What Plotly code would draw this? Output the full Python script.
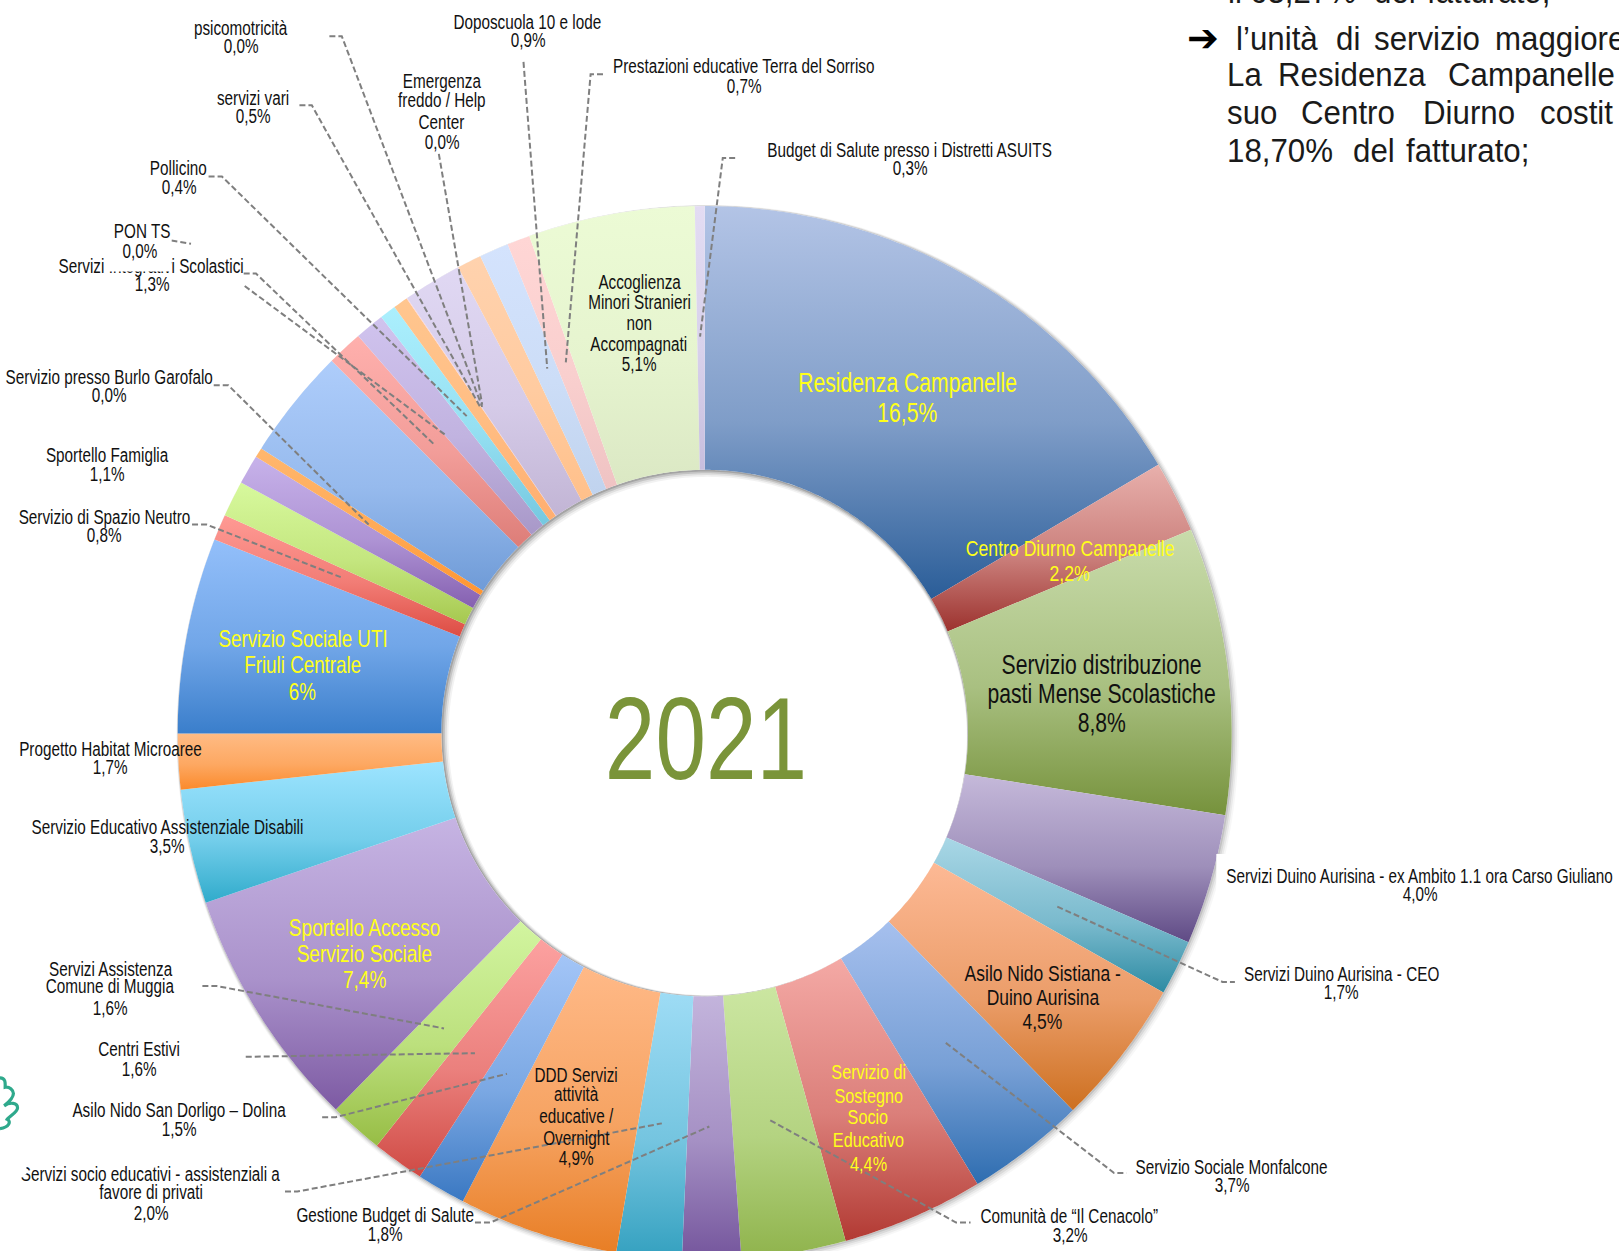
import numpy as np
import plotly.graph_objects as go

# ---------- data ----------
names = ["Residenza Campanelle", "Centro Diurno Campanelle", "Servizio distribuzione pasti Mense Scolastiche",
         "Servizi Duino Aurisina - ex Ambito 1.1 ora Carso Giuliano", "Servizi Duino Aurisina - CEO",
         "Asilo Nido Sistiana - Duino Aurisina", "Servizio Sociale Monfalcone", "Servizio di Sostegno Socio Educativo",
         "Comunità de “Il Cenacolo”", "Gestione Budget di Salute", "Servizi socio educativi - assistenziali a favore di privati",
         "DDD Servizi attività educative / Overnight", "Asilo Nido San Dorligo – Dolina", "Centri Estivi",
         "Servizi Assistenza Comune di Muggia", "Sportello Accesso Servizio Sociale", "Servizio Educativo Assistenziale Disabili",
         "Progetto Habitat Microaree", "Servizio Sociale UTI Friuli Centrale", "Servizio di Spazio Neutro",
         "Sportello Famiglia", "Servizio presso Burlo Garofalo", "Altro A", "Altro B",
         "Servizi Integrativi Scolastici", "PON TS", "Pollicino", "servizi vari", "psicomotricità",
         "Emergenza freddo / Help Center", "Altro C", "Doposcuola 10 e lode",
         "Prestazioni educative Terra del Sorriso", "Accoglienza Minori Stranieri non Accompagnati",
         "Budget di Salute presso i Distretti ASUITS"]
values = [16.5, 2.2, 8.8, 4.0, 1.7, 4.5, 3.65, 4.35, 3.2, 1.8, 2.0, 4.9, 1.5, 1.6, 1.65, 7.45, 3.5, 1.7, 6.0, 0.8,
          1.1, 0.9, 0.3, 3.4, 1.1, 0.9, 0.5, 0.45, 0.02, 1.8, 0.75, 0.9, 0.7, 5.1, 0.3]
tops = ["#b3c4e6", "#e8b0ac", "#c9dcab", "#c5b9da", "#a9d7e6", "#fdb995", "#a6c0ee", "#f4a9a5", "#cbe6a1", "#c3b4dc",
        "#9edcf5", "#ffb987", "#a3c5f7", "#fca1a0", "#d2f5a0", "#c6b4e3", "#9de4ff", "#ffbb84", "#93bffa", "#ff9a94",
        "#d7f99d", "#c7b2ea", "#ffb76e", "#aecdfb", "#ffb0ad", "#d0c3ee", "#abeffd", "#ffc68f", "#ffd0d0",
        "#e0d8f3", "#ffd2ae", "#d4e3fd", "#ffd6d5", "#ecfbd5", "#e3dcf3"]
bottoms = ["#2a5d98", "#9c322e", "#76923c", "#5f4a85", "#2d8ba3", "#cd7020", "#2e6db0", "#b23a33", "#8fb34c", "#74559c",
           "#33a0bf", "#e87e25", "#3a78c2", "#cf4a44", "#97bd45", "#7d5aa3", "#30abcb", "#fb8a2b", "#3a7ecb", "#dd4d44",
           "#a6c84f", "#8560b0", "#ff9530", "#6f9bd7", "#dd7d78", "#a898c8", "#75c8e0", "#ffae70", "#f0c0c0",
           "#c2b5d5", "#ffc08a", "#c0d3ee", "#efc3c3", "#dbe8c4", "#c7bede"]

BLK = "#111111"
YEL = "#ffff1a"
small = 19.5
labels = [
    ("psicomotricità", 233, 27), ("0,0%", 233, 45),
    ("Doposcuola 10 e lode", 511, 21), ("0,9%", 511, 39),
    ("Prestazioni educative Terra del Sorriso", 721, 64), ("0,7%", 721, 83),
    ("Emergenza", 428, 78), ("freddo / Help", 428, 97), ("Center", 428, 118), ("0,0%", 428, 138),
    ("servizi vari", 245, 95), ("0,5%", 245, 112),
    ("Budget di Salute presso i Distretti ASUITS", 881, 145), ("0,3%", 881, 163),
    ("Pollicino", 173, 163), ("0,4%", 173, 181),
    ("PON TS", 138, 224),
    ("Servizi Integrativi Scolastici", 146, 258), ("1,3%", 147, 275),
    ("Servizio presso Burlo Garofalo", 106, 365), ("0,0%", 106, 383),
    ("Sportello Famiglia", 104, 441), ("1,1%", 104, 459),
    ("Servizio di Spazio Neutro", 101, 501), ("0,8%", 101, 518),
    ("Accoglienza", 619, 273), ("Minori Stranieri", 619, 292), ("non", 619, 313), ("Accompagnati", 619, 333), ("5,1%", 619, 353),
    ("Servizi Duino Aurisina - ex Ambito 1.1 ora Carso Giuliano", 1375, 848), ("4,0%", 1375, 866),
    ("Servizi Duino Aurisina - CEO", 1299, 943), ("1,7%", 1299, 961),
    ("Servizio Sociale Monfalcone", 1193, 1130), ("3,7%", 1193, 1148),
    ("Comunità de “Il Cenacolo”", 1036, 1178), ("3,2%", 1036, 1196),
    ("DDD Servizi", 558, 1041), ("attività", 558, 1060), ("educative /", 558, 1081), ("Overnight", 558, 1102), ("4,9%", 558, 1122),
    ("Gestione Budget di Salute", 373, 1177), ("1,8%", 373, 1195),
    ("Servizi socio educativi - assistenziali a", 146, 1137), ("favore di privati", 146, 1154), ("2,0%", 146, 1175),
    ("Asilo Nido San Dorligo – Dolina", 173, 1075), ("1,5%", 173, 1093),
    ("Centri Estivi", 135, 1016), ("1,6%", 135, 1035),
    ("Servizi Assistenza", 107, 938), ("Comune di Muggia", 107, 955), ("1,6%", 107, 976),
    ("Servizio Educativo Assistenziale Disabili", 162, 801), ("3,5%", 162, 819),
    ("Progetto Habitat Microaree", 107, 725), ("1,7%", 107, 743),
]
big_labels = [
    ("Residenza Campanelle", 879, 371, 27, YEL), ("16,5%", 879, 400, 27, YEL),
    ("Centro Diurno Campanelle", 1036, 531, 22.5, YEL), ("2,2%", 1036, 555, 22.5, YEL),
    ("Servizio distribuzione", 1067, 644, 27, BLK), ("pasti Mense Scolastiche", 1067, 672, 27, BLK), ("8,8%", 1067, 700, 27, BLK),
    ("Asilo Nido Sistiana -", 1010, 943, 22.3, BLK), ("Duino Aurisina", 1010, 966, 22.3, BLK), ("4,5%", 1010, 989, 22.3, BLK),
    ("Servizio di", 841, 1038, 20.7, YEL), ("Sostegno", 841, 1061, 20.7, YEL), ("Socio", 841, 1081, 20.7, YEL),
    ("Educativo", 841, 1104, 20.7, YEL), ("4,4%", 841, 1127, 20.7, YEL),
    ("Sportello Accesso", 353, 898, 24.3, YEL), ("Servizio Sociale", 353, 923, 24.3, YEL), ("7,4%", 353, 949, 24.3, YEL),
    ("Servizio Sociale UTI", 293, 618, 24, YEL), ("Friuli Centrale", 293, 644, 24, YEL), ("6%", 293, 670, 24, YEL),
]
side_top = [("il", 1187), ("63,27%", 1209), ("del", 1329), ("fatturato;", 1380)]
side_words = [
    ("l’unità", 1195, 37), ("di", 1292, 37), ("servizio", 1329, 37), ("maggiore", 1446, 37),
    ("La", 1186, 72), ("Residenza", 1236, 72), ("Campanelle", 1400, 72),
    ("suo", 1186, 108), ("Centro", 1258, 108), ("Diurno", 1376, 108), ("costit", 1490, 108),
    ("18,70%", 1186, 145), ("del", 1308, 145), ("fatturato;", 1360, 145),
]
leaders = [
    [(319, 35), (331, 35), (467, 394)],
    [(290, 102), (302, 102), (465, 394)],
    [(425, 149), (467, 392)],
    [(507, 60), (530, 357)],
    [(584, 72), (572, 72), (548, 351)],
    [(712, 153), (700, 153), (678, 326)],
    [(202, 171), (215, 171), (452, 403)],
    [(166, 233), (185, 236)],
    [(236, 265), (248, 265), (420, 430)],
    [(237, 277), (431, 421)],
    [(207, 373), (221, 373), (357, 508)],
    [(186, 508), (200, 508), (330, 559)],
    [(196, 955), (210, 955), (430, 996)],
    [(238, 1023.5), (460, 1020)],
    [(312, 1082), (325, 1082), (491, 1040)],
    [(276, 1154), (288, 1154), (641, 1088)],
    [(460, 1184), (475, 1184), (687, 1091)],
    [(746, 1085), (926, 1184), (940, 1184)],
    [(916, 1010), (1079, 1136), (1091, 1136)],
    [(1024, 878), (1184, 951), (1196, 951)],
]

# ---------- geometry ----------
W, H = 1619, 1251
PW, PH = 1568, 1568 * H / W
CX, CY, R_OUT, R_IN = 682.5, 710.0, 510.4, 255.0
FONT = "Liberation Sans, Arial, sans-serif"
SIDE_SIZE = 34

fig = go.Figure()

def crescent(radius, d, sign, alpha):
    """ring-edge shadow: area between a circle and a shifted, tangent one"""
    start = 135 if sign > 0 else 315
    t = np.radians(np.linspace(start, start + 360, 361))
    r2 = radius - d if sign > 0 else radius + d
    cx2, cy2 = CX + d * 0.707, CY + d * 0.707
    xs = np.concatenate([CX + radius * np.sin(t), (cx2 + r2 * np.sin(t))[::-1]])
    ys = np.concatenate([CY - radius * np.cos(t), (cy2 - r2 * np.cos(t))[::-1]])
    fig.add_trace(go.Scatter(x=xs, y=ys, mode="none", fill="toself", fillcolor=f"rgba(0,0,0,{alpha})",
                             hoverinfo="skip", showlegend=False))

for d, a in [(1, .16), (2, .12), (3, .08), (4, .05)]:
    crescent(R_IN, d, 1, a)
for d, a in [(1, .10), (2, .07), (3, .05), (4, .03)]:
    crescent(R_OUT, d, -1, a)

def mix(c1, c2, f):
    a = [int(c1[i:i + 2], 16) for i in (1, 3, 5)]
    b = [int(c2[i:i + 2], 16) for i in (1, 3, 5)]
    return "rgb(%d,%d,%d)" % tuple(round(p + (q - p) * f) for p, q in zip(a, b))

ang = np.concatenate([[0], np.cumsum(values)]) / np.sum(values) * 360.0
for i, name in enumerate(names):
    a = np.radians(np.linspace(ang[i], ang[i + 1], max(3, int((ang[i + 1] - ang[i]) * 2) + 2)))
    xs = np.concatenate([CX + R_OUT * np.sin(a), CX + R_IN * np.sin(a[::-1])])
    ys = np.concatenate([CY - R_OUT * np.cos(a), CY - R_IN * np.cos(a[::-1])])
    fig.add_trace(go.Scatter(
        x=np.append(xs, xs[0]), y=np.append(ys, ys[0]), mode="none",
        fill="toself", name=name, showlegend=False, hovertemplate=f"{name}<br>{values[i]}%<extra></extra>",
        fillgradient=dict(type="vertical", start=float(ys.min()), stop=float(ys.max()),
                          colorscale=[[0, tops[i]], [0.55, mix(tops[i], bottoms[i], 0.38)], [1, bottoms[i]]]),
    ))

for pts in leaders:
    fig.add_trace(go.Scatter(x=[p[0] for p in pts], y=[p[1] for p in pts], mode="lines",
                             line=dict(color="#7f7f7f", width=2, dash="6px,3px"), hoverinfo="skip", showlegend=False))

def note(text, x, y, size=small, color=BLK, xanchor="center", family=FONT, **kw):
    fig.add_annotation(text=text, x=x, y=y, xref="x", yref="y", showarrow=False, xanchor=xanchor, yanchor="middle",
                       font=dict(family=family, size=size, color=color), **kw)

for t, x, y in labels:
    note(t, x, y)
for t, x, y, s, c in big_labels:
    note(t, x, y, s, c)
note("0,0%", 136, 246.5, width=60, height=30, bgcolor="#ffffff", valign="top")
note(" ", 12, 1130, width=25, height=12, bgcolor="#ffffff")
note("2021", 684, 716, 116, "#7a9439")
for t, x in side_top:
    note(t, x, 0, SIDE_SIZE, "#1a1a1a", xanchor="left", yshift=9)
for t, x, y in side_words:
    note(t, x, y, SIDE_SIZE, "#1a1a1a", xanchor="left")
note("➔", 1165, 37, 38, "#000000", family="DejaVu Sans")

fig.update_layout(
    width=W, height=H, margin=dict(l=0, r=0, t=0, b=0), paper_bgcolor="white", plot_bgcolor="white",
    xaxis=dict(range=[0, PW], visible=False, fixedrange=True),
    yaxis=dict(range=[PH, 0], visible=False, fixedrange=True),
    shapes=[
        dict(type="rect", xref="x", yref="y", x0=1178, x1=1568, y0=827, y1=878, fillcolor="white", line_width=0, layer="above"),
        dict(type="path", xref="x", yref="y", layer="above", line=dict(color="#2fa98c", width=3.2),
             path="M0,1044 C6,1044 5,1050 5,1053 C9,1052 13,1056 13,1059 C13,1063 9,1067 4,1071 C10,1067 17,1068 17,1073 "
                  "C17,1077 9,1081 7,1084 C11,1086 9,1092 0,1093"),
    ],
)

# the reference type is a condensed face: squeeze each text horizontally around its anchor
post = """
document.body.style.margin='0';document.body.style.overflow='hidden';
document.querySelectorAll('text.annotation-text').forEach(function(t){
  var fam=t.style.fontFamily||'', fs=parseFloat(t.style.fontSize);
  if(fam.indexOf('DejaVu')>=0) return;
  var side=(fs===%d), sx=side?0.92:0.784, b=t.getBBox();
  var ax=side?b.x:b.x+b.width/2;
  t.setAttribute('transform','translate('+ax+',0) scale('+sx+',1) translate('+(-ax)+',0)');
});
""" % SIDE_SIZE
fig.write_html("out.html", post_script=post, config={"displayModeBar": False})
